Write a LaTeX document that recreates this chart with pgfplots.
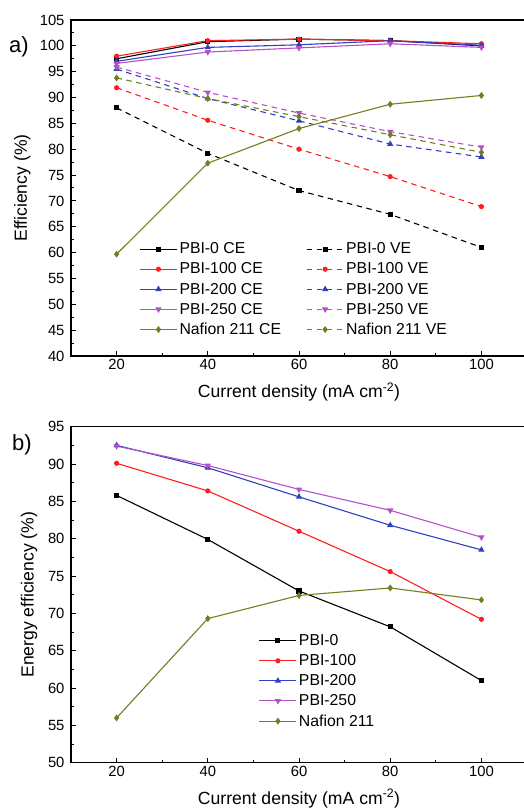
\documentclass[border=0pt]{standalone}
\usepackage{pgfplots}
\pgfplotsset{compat=1.18}
\usepackage{fontspec}
\setmainfont{Liberation Sans}
\definecolor{cblue}{RGB}{48,64,190}
\definecolor{cmag}{RGB}{180,80,200}
\definecolor{colive}{RGB}{112,128,32}
\definecolor{cred}{RGB}{255,30,30}
\pgfplotsset{
 myax/.style={scale only axis, width=456pt, height=336pt, xmin=10, xmax=110,
  xtick={20,40,...,100}, minor x tick num=1, tick align=inside,
  xtick pos=bottom, ytick pos=left,
  major tick length=5pt, minor tick length=3pt,
  axis line style={line width=1.3pt},
  every tick/.style={line width=1pt, black},
  tick label style={font=\fontsize{14.8}{15}\selectfont},
  yticklabel style={xshift=-3pt},
  label style={font=\fontsize{17.6}{19}\selectfont},
  /pgf/number format/assume math mode=true,
  xlabel={Current density (mA cm\textsuperscript{-2})},
  xlabel style={at={(axis description cs:0.5,-0.107)}, anchor=center},
  legend style={draw=none, fill=none, font=\fontsize{15.8}{17}\selectfont, row sep=3.5pt},
  legend cell align=left,
  every axis plot/.append style={line width=1.1pt, mark size=2pt},
  legend image code/.code={\draw[mark repeat=2,mark phase=2] plot coordinates {(0pt,0pt)(18.5pt,0pt)(37pt,0pt)};},
 },
 dsh/.style={dash pattern=on 5.5pt off 4.5pt},
 tri/.style={mark=triangle*, mark size=2.6pt},
}
\begin{document}
\begin{tikzpicture}
\begin{axis}[myax, at={(71pt,454pt)}, anchor=south west,
  ymin=40, ymax=105, ytick={40,45,...,105}, minor y tick num=1,
  ylabel={Efficiency (\%)},
  ylabel style={at={(axis description cs:-0.107,0.5)}, anchor=center},
  legend columns=2,
  legend style={at={(axis description cs:0.143,0.349)}, anchor=north west, /tikz/column 2/.style={column sep=23pt}},
]
\addplot[black, mark=square*] coordinates {(20,97.5)(40,100.8)(60,101.3)(80,101.0)(100,100.0)};
\addlegendentry{PBI-0 CE}
\addplot[black, dsh, mark=square*, mark options={solid}] coordinates {(20,88.0)(40,79.2)(60,72.0)(80,67.4)(100,61.0)};
\addlegendentry{PBI-0 VE}
\addplot[cred, mark=*] coordinates {(20,98.0)(40,101.0)(60,101.3)(80,101.0)(100,100.4)};
\addlegendentry{PBI-100 CE}
\addplot[cred, dsh, mark=*, mark options={solid}] coordinates {(20,91.9)(40,85.6)(60,80.0)(80,74.7)(100,68.9)};
\addlegendentry{PBI-100 VE}
\addplot[cblue, tri] coordinates {(20,97.0)(40,99.7)(60,100.2)(80,101.0)(100,100.1)};
\addlegendentry{PBI-200 CE}
\addplot[cblue, dsh, tri, mark options={solid}] coordinates {(20,95.5)(40,89.8)(60,85.5)(80,81.0)(100,78.5)};
\addlegendentry{PBI-200 VE}
\addplot[cmag, tri, mark options={rotate=180}] coordinates {(20,96.6)(40,98.8)(60,99.6)(80,100.4)(100,99.7)};
\addlegendentry{PBI-250 CE}
\addplot[cmag, dsh, tri, mark options={solid, rotate=180}] coordinates {(20,95.9)(40,91.0)(60,87.0)(80,83.4)(100,80.4)};
\addlegendentry{PBI-250 VE}
\addplot[colive, mark=diamond*, mark size=2.6pt] coordinates {(20,59.7)(40,77.3)(60,84.0)(80,88.7)(100,90.4)};
\addlegendentry{Nafion 211 CE}
\addplot[colive, dsh, mark=diamond*, mark size=2.6pt, mark options={solid}] coordinates {(20,93.8)(40,89.8)(60,86.3)(80,82.8)(100,79.4)};
\addlegendentry{Nafion 211 VE}
\end{axis}
\begin{axis}[myax, at={(71pt,47.3pt)}, anchor=south west,
  ymin=50, ymax=95, ytick={50,55,...,95}, minor y tick num=1,
  ylabel={Energy efficiency (\%)},
  ylabel style={at={(axis description cs:-0.092,0.5)}, anchor=center},
  legend style={at={(axis description cs:0.405,0.394)}, anchor=north west},
]
\addplot[black, mark=square*] coordinates {(20,85.8)(40,79.9)(60,73.0)(80,68.2)(100,61.0)};
\addlegendentry{PBI-0}
\addplot[cred, mark=*] coordinates {(20,90.1)(40,86.4)(60,81.0)(80,75.6)(100,69.2)};
\addlegendentry{PBI-100}
\addplot[cblue, tri] coordinates {(20,92.5)(40,89.5)(60,85.6)(80,81.8)(100,78.5)};
\addlegendentry{PBI-200}
\addplot[cmag, tri, mark options={rotate=180}] coordinates {(20,92.4)(40,89.8)(60,86.6)(80,83.8)(100,80.2)};
\addlegendentry{PBI-250}
\addplot[colive, mark=diamond*, mark size=2.6pt] coordinates {(20,56.0)(40,69.3)(60,72.4)(80,73.4)(100,71.8)};
\addlegendentry{Nafion 211}
\end{axis}
\node[font=\fontsize{22}{24}\selectfont] at (19pt,763pt) {a)};
\node[font=\fontsize{22}{24}\selectfont] at (22pt,365pt) {b)};
\pgfresetboundingbox
\useasboundingbox (0,0) rectangle (523pt,810pt);
\end{tikzpicture}
\end{document}
